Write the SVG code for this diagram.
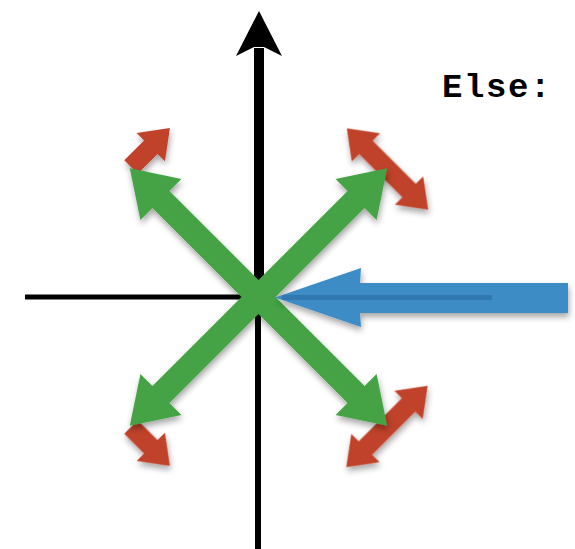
<svg xmlns="http://www.w3.org/2000/svg" width="575" height="549" viewBox="0 0 575 549">
<style>
.green{fill:#45a344}
.red{fill:#c0432b}
.blue{fill:#3d8cc6}
.axis{stroke:#000;fill:none}
.label{font-family:"Liberation Mono","Courier New",monospace;font-weight:bold;font-size:34px;letter-spacing:1.6px;fill:#000}
</style>
<defs>
<filter id="sh" x="-20%" y="-20%" width="140%" height="140%">
<feDropShadow dx="1" dy="4" stdDeviation="3" flood-color="#000" flood-opacity="0.35"/>
</filter>
<polygon id="gdbl" points="182,0 138,-29 138,-12 -138,-12 -138,-29 -182,0 -138,29 -138,12 138,12 138,29"/>
<polygon id="rdbl" points="57.5,0 30.5,-20 30.5,-9.5 -30.5,-9.5 -30.5,-20 -57.5,0 -30.5,20 -30.5,9.5 30.5,9.5 30.5,20"/>
<polygon id="rsgl" points="55,0 28,-20 28,-9.5 0,-9.5 0,9.5 28,9.5 28,20"/>
</defs>
<rect width="575" height="549" fill="#fff"/>
<g id="axes">
<line class="axis" x1="258" y1="297" x2="258" y2="549" stroke-width="6"/>
<line class="axis" x1="25" y1="297" x2="259" y2="297" stroke-width="5"/>
<line class="axis" x1="259" y1="48" x2="259" y2="300" stroke-width="10"/>
<polygon points="259,11 282,56 264,47 254,47 236,56" fill="#000"/>
</g>
<g id="red-arrows" class="red" filter="url(#sh)">
<use href="#rsgl" transform="translate(131,167) rotate(-45)"/>
<use href="#rdbl" transform="translate(387.5,169) rotate(45)"/>
<use href="#rsgl" transform="translate(131,427) rotate(45)"/>
<use href="#rdbl" transform="translate(387,426.5) rotate(-45)"/>
</g>
<g id="green-arrows" class="green" filter="url(#sh)">
<use href="#gdbl" transform="translate(258.5,297) rotate(45)"/>
<use href="#gdbl" transform="translate(258.5,297) rotate(-45)"/>
</g>
<g id="blue-arrow" filter="url(#sh)">
<polygon class="blue" points="275,297.5 361,268 360,283 568,283 568,313 360,313 361,327"/>
<line x1="282" y1="297.5" x2="492" y2="297.5" stroke="#2f74ab" stroke-width="5" opacity="0.8"/>
</g>
<g id="label">
<text class="label" x="442" y="97">Else:</text>
</g>
</svg>
